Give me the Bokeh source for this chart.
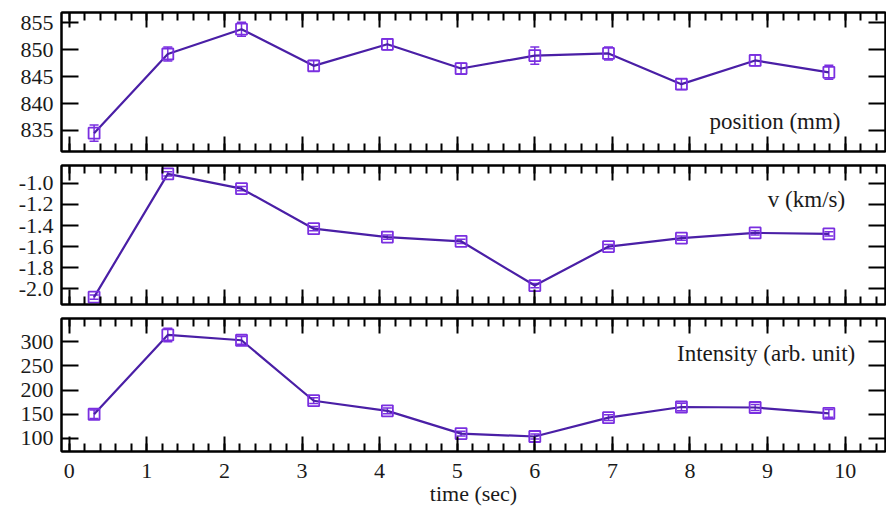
from bokeh.plotting import figure
from bokeh.layouts import column
from bokeh.models import (ColumnDataSource, LinearAxis, Range1d, SingleIntervalTicker,
                          Whisker, TeeHead, Label, CustomJSTickFormatter,
                          PrintfTickFormatter)
from bokeh.embed import file_html
from bokeh.resources import INLINE

# time of each sample (sec)
time_s = [0.32, 1.27, 2.22, 3.15, 4.10, 5.05, 6.00, 6.95, 7.89, 8.84, 9.79]

# position (mm) with error
position = [834.5, 849.2, 853.8, 847.0, 851.0, 846.5, 848.9, 849.3, 843.6, 848.0, 845.8]
position_err = [1.5, 1.3, 1.3, 1.0, 1.0, 1.0, 1.6, 1.2, 1.0, 1.0, 1.3]

# velocity (km/s) with error
velocity = [-2.08, -0.91, -1.05, -1.43, -1.51, -1.55, -1.97, -1.60, -1.52, -1.47, -1.48]
velocity_err = [0.02, 0.02, 0.02, 0.02, 0.02, 0.02, 0.02, 0.02, 0.02, 0.02, 0.02]

# intensity (arb. unit) with error
intensity = [150, 314, 303, 178, 157, 110, 104, 143, 165, 164, 152]
intensity_err = [9, 14, 8, 6, 6, 5, 5, 6, 8, 6, 8]

LINE = "#4a1fa6"
MARK = "#7a2fe0"
FONT = "Liberation Serif"
INK = "#1a1a1a"

x_range = Range1d(-0.1, 10.52)


def panel(y, err, y_lo, y_hi, y_step, y_fmt, label, label_pos, height, top, bottom, show_x):
    p = figure(width=886, height=height, x_range=x_range, y_range=Range1d(y_lo, y_hi),
               output_backend="svg", toolbar_location=None,
               min_border_left=61, min_border_right=1,
               min_border_top=top, min_border_bottom=bottom)
    p.grid.visible = False
    p.outline_line_color = "black"
    p.outline_line_width = 2
    p.background_fill_color = "white"
    p.border_fill_color = "white"

    xt = SingleIntervalTicker(interval=1, num_minor_ticks=5)
    yt = SingleIntervalTicker(interval=y_step, num_minor_ticks=0)

    top_ax = LinearAxis(ticker=xt)
    right_ax = LinearAxis(ticker=yt)
    p.add_layout(top_ax, "above")
    p.add_layout(right_ax, "right")

    p.xaxis.ticker = xt
    p.yaxis.ticker = yt
    p.yaxis.formatter = PrintfTickFormatter(format=y_fmt)

    for ax in list(p.xaxis) + list(p.yaxis):
        ax.axis_line_width = 2
        ax.axis_line_color = "black"
        ax.major_tick_line_width = 2
        ax.minor_tick_line_width = 2
        ax.major_tick_out = 0
        ax.minor_tick_out = 0
        ax.major_label_text_font = FONT
        ax.major_label_text_font_size = "22px"
        ax.major_label_text_color = INK
    for ax in p.xaxis:
        ax.major_tick_in = 15
        ax.minor_tick_in = 8
        ax.major_label_standoff = 12
    for ax in p.yaxis:
        ax.major_tick_in = 17
        ax.major_label_standoff = 8

    blank = CustomJSTickFormatter(code="return ''")
    hidden = [top_ax, right_ax]
    if not show_x:
        hidden.append(p.below[0])
    for ax in hidden:
        ax.formatter = blank
        ax.major_label_text_font_size = "0px"
        ax.major_label_standoff = 0

    if show_x:
        ax = p.below[0]
        ax.axis_label = "time (sec)"
        ax.axis_label_text_font = FONT
        ax.axis_label_text_font_size = "22px"
        ax.axis_label_text_font_style = "normal"
        ax.axis_label_text_color = INK
        ax.axis_label_standoff = 0

    src = ColumnDataSource(dict(
        x=time_s, y=y,
        upper=[a + b for a, b in zip(y, err)],
        lower=[a - b for a, b in zip(y, err)],
    ))
    p.add_layout(Whisker(source=src, base="x", upper="upper", lower="lower",
                         line_color=MARK, line_width=1.5,
                         upper_head=TeeHead(size=9, line_color=MARK, line_width=1.5),
                         lower_head=TeeHead(size=9, line_color=MARK, line_width=1.5)))
    p.line("x", "y", source=src, line_color=LINE, line_width=2.2)
    p.scatter("x", "y", source=src, marker="square", size=11, fill_color=None,
              line_color=MARK, line_width=1.8)

    p.add_layout(Label(x=label_pos[0], y=label_pos[1], text=label,
                       text_font=FONT, text_font_size="23px", text_color=INK,
                       text_align="right", text_baseline="middle"))
    return p


p1 = panel(position, position_err, 831.1, 856.9, 5, "%d", "position (mm)", (9.94, 836.6),
           158, 12, 7, False)
p2 = panel(velocity, velocity_err, -2.15, -0.83, 0.2, "%.1f", "v (km/s)", (10.0, -1.15),
           153, 7, 7, False)
p3 = panel(intensity, intensity_err, 73, 348, 50, "%d", "Intensity (arb. unit)", (10.13, 275),
           201, 7, 61, True)

layout = column(p1, p2, p3, spacing=0)
open("out.html", "w").write(file_html(layout, INLINE))
